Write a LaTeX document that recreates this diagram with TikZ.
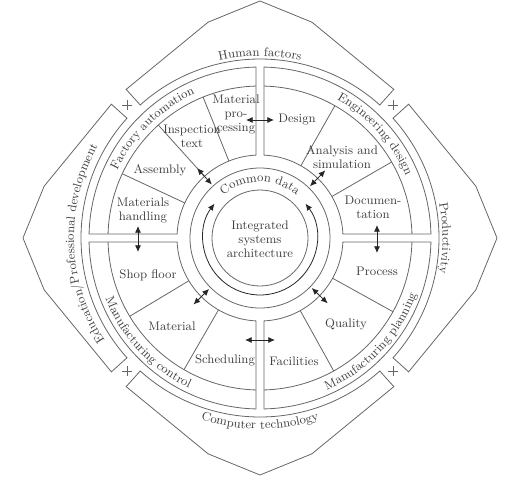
\documentclass[tikz,border=0pt]{standalone}
\usetikzlibrary{math,decorations.text,arrows.meta}

\tikzset{
  ring/.style={draw=black!60, line width=0.6pt},
  lbl/.style={text=black!75, font=\fontsize{9.3}{10.5}\selectfont, align=center, inner sep=1pt},
  twoway/.style={black!85, line width=0.6pt, {Latex[length=5pt,width=4.5pt]}-{Latex[length=5pt,width=4.5pt]}},
  arclbl/.style={decorate, decoration={text along path, text align=center, text color=black!75,
      text={|\fontsize{9.3}{10.5}\selectfont|#1}}}
}

\begin{document}
\begin{tikzpicture}[x=0.75pt,y=0.75pt]
\tikzmath{
\rCore=48;
\rArrow=57;
\rData=70;
\rIn=83;
\rBand=152;
\rOut=171;
\rFrame=179;
\gap=4;
\aOut=asin(\gap/\rOut);
\aBand=asin(\gap/\rBand);
\aIn=asin(\gap/\rIn);
}
\useasboundingbox (-260,-244) rectangle (245,238);

% centre
\draw[ring] (0,0) circle[radius=\rCore];
\draw[ring] (0,0) circle[radius=\rData];
\draw[twoway] (37:\rArrow) arc[start angle=37, end angle=-217, radius=\rArrow];
\path[arclbl=Common data] (150:56) arc[start angle=150, end angle=30, radius=56];
\node[lbl] (core) at (0,-1) {Integrated\\systems\\architecture};

% quadrants
\foreach \q in {0,90,180,270}{
  \draw[ring] ({\q+\aOut}:\rOut) arc[start angle=\q+\aOut, end angle=\q+90-\aOut, radius=\rOut]
    -- ({\q+90-\aIn}:\rIn) arc[start angle=\q+90-\aIn, end angle=\q+\aIn, radius=\rIn] -- cycle;
  \draw[ring] ({\q+\aBand}:\rBand) arc[start angle=\q+\aBand, end angle=\q+90-\aBand, radius=\rBand];
}
\foreach \a in {112,132,155,60.5,30,-29,-61,211,240}
  \draw[ring] (\a:\rIn) -- (\a:\rBand);

\path[arclbl=Factory automation] (179.5:158) arc[start angle=179.5, end angle=89.5, radius=158];
\path[arclbl=Engineering design] (87:158.5) arc[start angle=87, end angle=-3, radius=158.5];
\path[arclbl=Manufacturing planning] (-88:166) arc[start angle=-88, end angle=2, radius=166];
\path[arclbl=Manufacturing control] (178:166) arc[start angle=178, end angle=268, radius=166];

\node[lbl] (mproc) at (-24,124) {Material\\pro-\\cessing};
\node[lbl] (insp) at (-68,102) {Inspection\\text};
\node[lbl] (assy) at (-100,68) {Assembly};
\node[lbl] (mhand) at (-117,28) {Materials\\handling};
\node[lbl] (design) at (37,118) {Design};
\node[lbl] (anal) at (82,81) {Analysis and\\simulation};
\node[lbl] (doc) at (113,31) {Documen-\\tation};
\node[lbl] (proc) at (117,-33) {Process};
\node[lbl] (qual) at (86,-86) {Quality};
\node[lbl] (fac) at (34,-123) {Facilities};
\node[lbl] (shop) at (-112,-37) {Shop floor};
\node[lbl] (mat) at (-88,-88) {Material};
\node[lbl] (sched) at (-35,-122) {Scheduling};

% links
\coordinate (mp1) at (-14,118);
\coordinate (ds1) at (14,118);
\coordinate (mh1) at (-122,12);
\coordinate (sf1) at (-122,-14);
\coordinate (dc1) at (117,13);
\coordinate (pr1) at (117,-15);
\coordinate (sc1) at (-15,-102);
\coordinate (fa1) at (15,-102);
\draw[twoway] (mp1) -- (ds1);
\draw[twoway] (mh1) -- (sf1);
\draw[twoway] (dc1) -- (pr1);
\draw[twoway] (sc1) -- (fa1);
\foreach \a in {132,46,225,316}{
  \coordinate (in\a) at (\a:72);
  \coordinate (out\a) at (\a:94);
  \draw[twoway] (in\a) -- (out\a);
}

% outer frames
\foreach \q in {0,90,180,270}{
  \draw[ring] ({\q-42}:\rFrame) -- ({\q-42}:200) -- ({\q-13.5}:222) -- (\q:237)
    -- ({\q+13.5}:222) -- ({\q+42}:200) -- ({\q+42}:\rFrame)
    arc[start angle=\q+42, end angle=\q-42, radius=\rFrame] -- cycle;
  \draw[ring] ({\q+45}:188) ++(-5,0) -- ++(10,0) ({\q+45}:188) ++(0,-5) -- ++(0,10);
}
\path[arclbl=Human factors] (135:182) arc[start angle=135, end angle=45, radius=182];
\path[arclbl=Productivity] (45:182.5) arc[start angle=45, end angle=-45, radius=182.5];
\path[arclbl=Computer technology] (225:191) arc[start angle=225, end angle=315, radius=191];
\path[arclbl=Education/Professional development] (227:186) arc[start angle=227, end angle=137, radius=186];

\end{tikzpicture}
\end{document}
